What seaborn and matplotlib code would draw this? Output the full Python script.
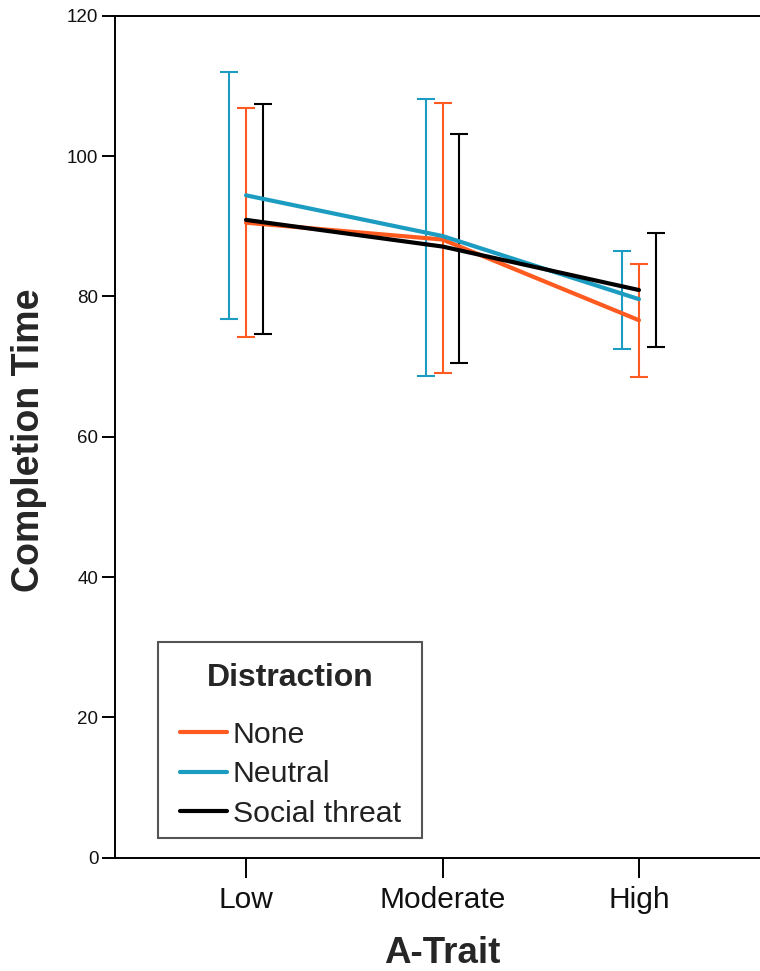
import numpy as np
import pandas as pd
import matplotlib
matplotlib.use("Agg")
import matplotlib.pyplot as plt
from matplotlib.patches import Rectangle
import seaborn as sns

# ---- data ----
categories = ["Low", "Moderate", "High"]
groups = ["None", "Neutral", "Social threat"]
mean_none = [90.5, 88.1, 76.6]
mean_neutral = [94.4, 88.6, 79.6]
mean_social = [90.9, 87.1, 80.9]
lo_none = [74.2, 69.1, 68.5]
hi_none = [106.9, 107.6, 84.6]
lo_neutral = [76.8, 68.6, 72.5]
hi_neutral = [112.0, 108.1, 86.4]
lo_social = [74.7, 70.5, 72.8]
hi_social = [107.4, 103.1, 89.0]
y_ticks = [0, 20, 40, 60, 80, 100, 120]

colors = {"None": "#FF5A1F", "Neutral": "#1C9CC0", "Social threat": "#000000"}
offsets = {"None": 0.0, "Neutral": -0.085, "Social threat": 0.085}

means = {"None": mean_none, "Neutral": mean_neutral, "Social threat": mean_social}
los = {"None": lo_none, "Neutral": lo_neutral, "Social threat": lo_social}
his = {"None": hi_none, "Neutral": hi_neutral, "Social threat": hi_social}

rows = []
for g in groups:
    for i, c in enumerate(categories):
        rows.append({"pos": i, "A-Trait": c, "Distraction": g,
                     "mean": means[g][i], "lo": los[g][i], "hi": his[g][i]})
df = pd.DataFrame(rows)

sns.set_theme(style="white")
plt.rcParams["font.family"] = ["Liberation Sans", "DejaVu Sans"]

fig = plt.figure(figsize=(7.6, 9.71), dpi=100)
ax = fig.add_axes([115 / 760, 1 - 857.7 / 971, 655 / 760, (857.7 - 15.7) / 971])

# error bars (dodged)
for g in groups:
    sub = df[df["Distraction"] == g]
    x = sub["pos"].to_numpy() + offsets[g]
    m = sub["mean"].to_numpy()
    yerr = np.vstack([m - sub["lo"].to_numpy(), sub["hi"].to_numpy() - m])
    ax.errorbar(x, m, yerr=yerr, fmt="none", ecolor=colors[g], elinewidth=1.5,
                capsize=6.5, capthick=1.5, zorder=2)

# mean lines
sns.lineplot(data=df, x="pos", y="mean", hue="Distraction", hue_order=groups,
             palette=colors, linewidth=3, ax=ax, zorder=3, legend=True)

ax.set_xlim(-0.667, 2.667)
ax.set_ylim(0, 120)
ax.set_xticks(range(len(categories)))
ax.set_xticklabels(categories)
ax.set_yticks(y_ticks)
ax.set_yticklabels([str(v) for v in y_ticks])

for side in ["left", "bottom", "top"]:
    ax.spines[side].set_visible(True)
    ax.spines[side].set_color("#000000")
    ax.spines[side].set_linewidth(1.4)
ax.spines["right"].set_visible(False)

ax.tick_params(axis="y", direction="out", length=9.5, width=1.4, color="black",
               labelsize=13.5, pad=2.5, left=True, labelcolor="#111111")
ax.tick_params(axis="x", direction="out", length=14.5, width=1.4, color="black",
               labelsize=21.5, pad=6, bottom=True, labelcolor="#111111")

ax.set_ylabel("Completion Time", fontsize=27, fontweight="bold")
ax.yaxis.set_label_coords(-0.131, 0.496)
ax.set_xlabel("A-Trait", fontsize=26.5, fontweight="bold")
ax.xaxis.set_label_coords(0.499, -0.1135)
ax.xaxis.label.set_va("center")
ax.yaxis.label.set_va("center")

# legend frame (drawn separately so padding matches the reference)
frame = Rectangle((0.0656, 0.0234), 0.403, 0.2328, transform=ax.transAxes,
                  facecolor="white", edgecolor="#555555", linewidth=1.5,
                  zorder=4.5)
ax.add_patch(frame)

handles, labels = ax.get_legend_handles_labels()
for h in handles:
    h.set_linewidth(3)
leg = ax.legend(handles, labels, title="Distraction", loc="lower left",
                bbox_to_anchor=(0.0992, 0.0353), borderaxespad=0,
                fontsize=21.8, title_fontproperties={"weight": "bold", "size": 23},
                frameon=False, handlelength=1.55,
                handletextpad=0.2, labelspacing=0.38, borderpad=0.0,
                alignment="center")
leg._legend_box.sep = 20
leg.set_zorder(5)
for t in leg.get_texts():
    t.set_color("#222222")

fig.savefig("out.png", dpi=100)
